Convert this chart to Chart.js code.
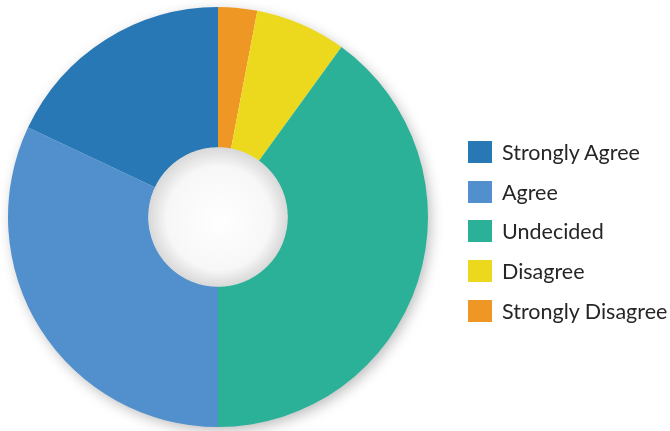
<!DOCTYPE html>
<html>
<head>
<meta charset="utf-8">
<script src="https://cdn.jsdelivr.net/npm/chart.js@4.4.1/dist/chart.umd.min.js"></script>
<style>
  html, body { margin: 0; padding: 0; background: #fff; }
  #wrap { position: relative; width: 670px; height: 431px; }
  #chart { position: absolute; left: 0; top: 0; }
  #legend { position: absolute; left: 468px; top: 132px; font-family: Lato, sans-serif; font-size: 21.5px; color: #262626; }
  #legend .row { height: 39.8px; display: flex; align-items: center; white-space: nowrap; }
  #legend .box { width: 24px; height: 22px; margin-right: 10px; }
</style>
</head>
<body>
<div id="wrap">
  <canvas id="chart" width="670" height="431"></canvas>
  <div id="legend"></div>
</div>
<script>
// legend order
const categories = ['Strongly Agree', 'Agree', 'Undecided', 'Disagree', 'Strongly Disagree'];
const values = [18, 32, 40, 7, 3];
const colors = ['#2878b5', '#5190cd', '#2bb198', '#ecd91e', '#ee9724'];

// pie is drawn clockwise from the top starting with the last category
const order = [4, 3, 2, 1, 0];

const ringShadow = {
    id: 'ringShadow',
    beforeDatasetsDraw(chart) {
        const arc = chart.getDatasetMeta(0).data[0];
        if (!arc) return;
        const ctx = chart.ctx;
        ctx.save();
        ctx.shadowColor = 'rgba(0,0,0,0.28)';
        ctx.shadowBlur = 14;
        ctx.shadowOffsetX = 3;
        ctx.shadowOffsetY = 4;
        ctx.fillStyle = '#fff';
        ctx.beginPath();
        ctx.arc(arc.x, arc.y, arc.outerRadius - 1, 0, Math.PI * 2);
        ctx.fill();
        ctx.restore();
    },
    afterDatasetsDraw(chart) {
        const arc = chart.getDatasetMeta(0).data[0];
        if (!arc) return;
        const ctx = chart.ctx;
        const r = arc.innerRadius;
        const g = ctx.createRadialGradient(arc.x + 4, arc.y + 5, 0, arc.x, arc.y, r);
        g.addColorStop(0, '#ffffff');
        g.addColorStop(0.75, '#f7f7f7');
        g.addColorStop(1, '#d9d9d9');
        ctx.save();
        ctx.fillStyle = g;
        ctx.beginPath();
        ctx.arc(arc.x, arc.y, r + 0.5, 0, Math.PI * 2);
        ctx.fill();
        ctx.restore();
    }
};

new Chart(document.getElementById('chart'), {
    type: 'doughnut',
    data: {
        labels: order.map(i => categories[i]),
        datasets: [{
            data: order.map(i => values[i]),
            backgroundColor: order.map(i => colors[i]),
            borderWidth: 0,
            hoverOffset: 0
        }]
    },
    options: {
        responsive: false,
        animation: false,
        cutout: '33%',
        layout: { padding: { left: 8, right: 242, top: 7, bottom: 4 } },
        events: [],
        plugins: {
            legend: { display: false },
            tooltip: { enabled: false }
        }
    },
    plugins: [ringShadow]
});

const legend = document.getElementById('legend');
categories.forEach((label, i) => {
    const row = document.createElement('div');
    row.className = 'row';
    const box = document.createElement('div');
    box.className = 'box';
    box.style.background = colors[i];
    const txt = document.createElement('span');
    txt.textContent = label;
    row.appendChild(box);
    row.appendChild(txt);
    legend.appendChild(row);
});
</script>
</body>
</html>
